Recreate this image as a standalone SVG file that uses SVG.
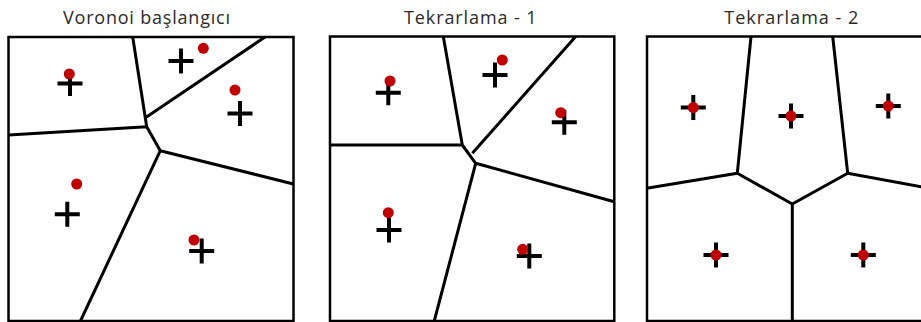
<svg xmlns="http://www.w3.org/2000/svg" width="921" height="322" viewBox="0 0 921 322">
<defs>
<style>
.title{font-family:"Open Sans","Liberation Sans",sans-serif;font-size:18px;fill:#2a2a2a;text-anchor:middle}
.frame{fill:#fff;stroke:#000;stroke-width:2.5}
.edge{fill:none;stroke:#000;stroke-width:3;stroke-linejoin:round;stroke-linecap:butt}
.cross{stroke:#000;stroke-width:4;fill:none}
.dot{fill:#c00000}
</style>
<path id="plus" d="M-12.5 0H12.5M0 -12.5V12.5"/>
</defs>
<rect width="921" height="322" fill="#fff"/>

<g id="panel-initial">
<text class="title" x="146.5" y="24" textLength="167" lengthAdjust="spacing">Voronoi başlangıcı</text>
<rect class="frame" x="8.5" y="37" width="285" height="284"/>
<g id="edges-initial">
<path class="edge" d="M132.7 37L146.7 126.7L8.5 135M146.7 126.7L160.3 150.7L293.3 184M160.3 150.7L80 322M146.5 117L265 37"/>
</g>
<g id="sites-initial">
<use href="#plus" class="cross" x="70" y="83.5"/>
<use href="#plus" class="cross" x="181" y="61"/>
<use href="#plus" class="cross" x="240" y="113.5"/>
<use href="#plus" class="cross" x="67.3" y="214.3"/>
<use href="#plus" class="cross" x="201.7" y="251"/>
<circle class="dot" cx="69.3" cy="74" r="5.5"/>
<circle class="dot" cx="203.3" cy="48.3" r="5.5"/>
<circle class="dot" cx="235" cy="90" r="5.5"/>
<circle class="dot" cx="76.7" cy="184" r="5.5"/>
<circle class="dot" cx="194" cy="240" r="5.5"/>
</g>
</g>

<g id="panel-iter1">
<text class="title" x="470.3" y="24" textLength="132.7" lengthAdjust="spacing">Tekrarlama - 1</text>
<rect class="frame" x="330" y="36.5" width="284.3" height="284.5"/>
<g id="edges-iter1">
<path class="edge" d="M443.3 36.5L462.3 145L330 145M462.3 145L475.7 163.3L614.3 201.7M475.7 163.3L434 322M472.3 153.3L575.7 36.5"/>
</g>
<g id="sites-iter1">
<use href="#plus" class="cross" x="388.3" y="92.7"/>
<use href="#plus" class="cross" x="495" y="75"/>
<use href="#plus" class="cross" x="564.3" y="122.3"/>
<use href="#plus" class="cross" x="389" y="230"/>
<use href="#plus" class="cross" x="529.3" y="256"/>
<circle class="dot" cx="390" cy="81" r="5.5"/>
<circle class="dot" cx="502.3" cy="60" r="5.5"/>
<circle class="dot" cx="560.7" cy="112.7" r="5.5"/>
<circle class="dot" cx="388.3" cy="212.7" r="5.5"/>
<circle class="dot" cx="522.7" cy="249.3" r="5.5"/>
</g>
</g>

<g id="panel-iter2">
<text class="title" x="791.3" y="24" textLength="134" lengthAdjust="spacing">Tekrarlama - 2</text>
<rect class="frame" x="647" y="36.5" width="290" height="284.5"/>
<g id="edges-iter2">
<path class="edge" d="M751 36.5L737.3 173.3L646.7 188.3M737.3 173.3L792.3 204L847.7 173.3L832.7 36.5M847.7 173.3L925 187.5M792.3 204V322"/>
</g>
<g id="sites-iter2">
<use href="#plus" class="cross" x="693.3" y="107.5"/>
<use href="#plus" class="cross" x="791" y="116"/>
<use href="#plus" class="cross" x="888.3" y="106"/>
<use href="#plus" class="cross" x="716" y="255"/>
<use href="#plus" class="cross" x="863.3" y="255"/>
<circle class="dot" cx="693.3" cy="107.5" r="5.5"/>
<circle class="dot" cx="791" cy="116" r="5.5"/>
<circle class="dot" cx="888.3" cy="106" r="5.5"/>
<circle class="dot" cx="716" cy="255" r="5.5"/>
<circle class="dot" cx="863.3" cy="255" r="5.5"/>
</g>
</g>
</svg>
